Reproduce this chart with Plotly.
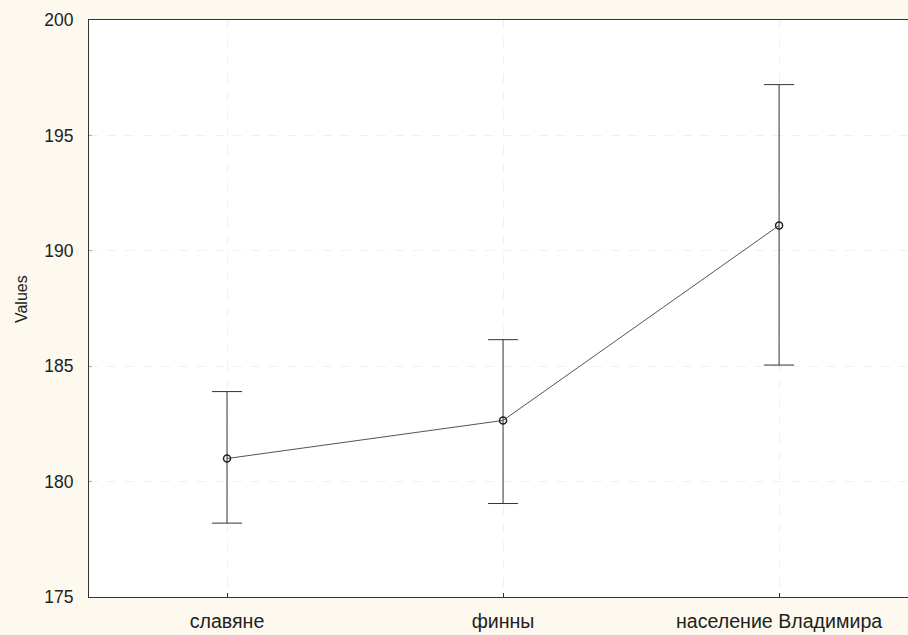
import plotly.graph_objects as go

categories = ["славяне", "финны", "население Владимира"]
means = [181.0, 182.65, 191.1]
upper = [183.9, 186.15, 197.2]
lower = [178.2, 179.05, 185.05]
y_ticks = [175, 180, 185, 190, 195, 200]

x_idx = list(range(len(categories)))
err_plus = [u - m for u, m in zip(upper, means)]
err_minus = [m - l for m, l in zip(means, lower)]

fig = go.Figure()
fig.add_trace(go.Scatter(
    x=x_idx, y=means, mode="lines+markers",
    line=dict(color="#555555", width=1),
    marker=dict(symbol="circle-open", size=7, color="#222222", line=dict(width=1.5)),
    error_y=dict(type="data", symmetric=False, array=err_plus, arrayminus=err_minus,
                 color="#333333", thickness=1, width=15),
    showlegend=False,
))

fig.update_layout(
    width=908, height=635,
    margin=dict(l=89, r=0, t=20, b=38, autoexpand=False),
    paper_bgcolor="#fdf9ee",
    plot_bgcolor="#ffffff",
    font=dict(family="Liberation Sans, Arial, sans-serif", size=20, color="#222222"),
)
fig.update_xaxes(
    range=[-0.5, 2.467], tickmode="array", tickvals=x_idx, ticktext=categories,
    tickfont=dict(size=19.6),
    showline=True, linecolor="#333333", linewidth=1, mirror=True,
    ticks="inside", ticklen=4, tickcolor="#333333", ticklabelstandoff=6,
    showgrid=True, gridcolor="#f0f0f0", griddash="dash", zeroline=False,
    automargin=False,
)
fig.update_yaxes(
    range=[175, 200], tickmode="array", tickvals=y_ticks,
    tickfont=dict(size=17.5),
    showline=True, linecolor="#333333", linewidth=1, mirror=False,
    ticks="inside", ticklen=3, tickcolor="#aaaaaa", ticklabelstandoff=11,
    showgrid=True, gridcolor="#f0f0f0", griddash="dash", zeroline=False,
    automargin=False,
)
fig.add_annotation(
    text="Values", textangle=-90, xref="paper", yref="paper",
    x=-0.083, y=(597 - 299) / 577, xanchor="center", yanchor="middle",
    showarrow=False, font=dict(size=16, color="#222222"),
)

fig.write_html(
    "out.html",
    config={"displayModeBar": False},
    post_script="document.body.style.margin='0';document.body.style.overflow='hidden';document.body.style.background='#fdf9ee';",
)
